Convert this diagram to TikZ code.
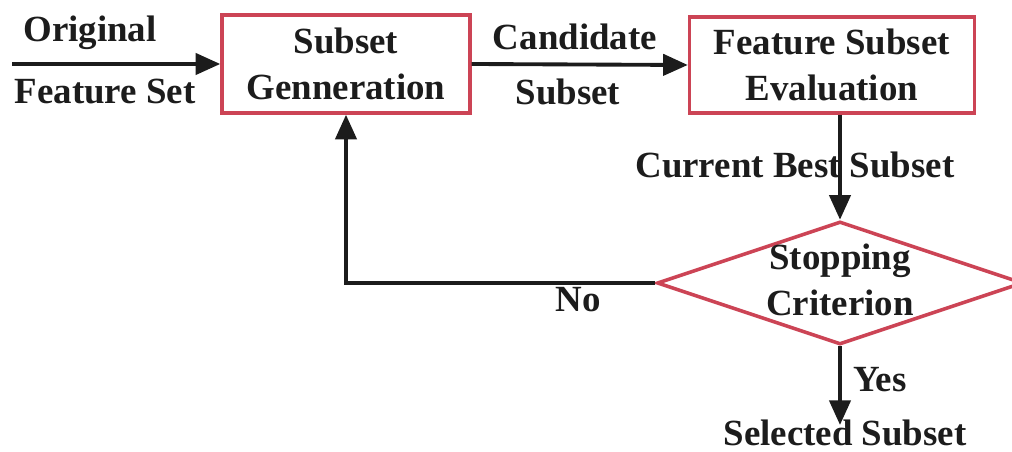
\documentclass[tikz,border=0pt]{standalone}
\usepackage{fontspec}
\setmainfont{Liberation Serif}
\usetikzlibrary{arrows.meta,shapes.geometric}
\definecolor{ink}{HTML}{1C1C1C}
\definecolor{frame}{HTML}{CC4455}

\begin{document}
\begin{tikzpicture}[x=0.02cm, y=0.02cm, font=\fontsize{21}{26}\selectfont\bfseries,
    >={Triangle[length=14pt, width=12pt]},
    box/.style={draw=frame, line width=2pt, align=center, inner sep=0pt, text=ink},
    decision/.style={diamond, draw=frame, line width=2pt, inner sep=0pt,
      minimum width=7.32cm, minimum height=2.46cm},
    lbl/.style={align=center, inner sep=0pt, text=ink},
    flow/.style={->, draw=ink, line width=2.2pt}]
    \useasboundingbox (0,0) rectangle (1012,452);
    \node[box, minimum width=4.96cm, minimum height=1.96cm] (gen) at (346,388) {Subset\\Genneration};
    \node[box, minimum width=5.70cm, minimum height=1.92cm] (eval) at (832,387) {Feature Subset\\Evaluation};
    \node[decision] (crit) at (840,169) {};
    \node[lbl] (critText) at (840,172) {Stopping\\Criterion};
    \coordinate (start) at (12,388);
    \coordinate (yesEnd) at (840,27);
    % flow between the steps
    \draw[flow] (start) -- (gen.west);
    \draw[flow] (gen.east) -- (eval.west);
    \draw[flow] (eval.south -| crit.north) -- (crit.north);
    \draw[flow] (crit.west) -| (gen.south);
    \draw[flow] (crit.south) -- (yesEnd);
    % edge labels
    \node[lbl] (origLbl) at (90,419) {Original};
    \node[lbl] (featLbl) at (105,360) {Feature Set};
    \node[lbl] (candLbl) at (575,415) {Candidate};
    \node[lbl] (subLbl) at (568,360) {Subset};
    \node[lbl] (bestLbl) at (795,287) {Current Best Subset};
    \node[lbl] (noLbl) at (578,152) {No};
    \node[lbl] (yesLbl) at (880,72) {Yes};
    \node[lbl, anchor=base] (selLbl) at (845,6) {Selected Subset};
\end{tikzpicture}
\end{document}
